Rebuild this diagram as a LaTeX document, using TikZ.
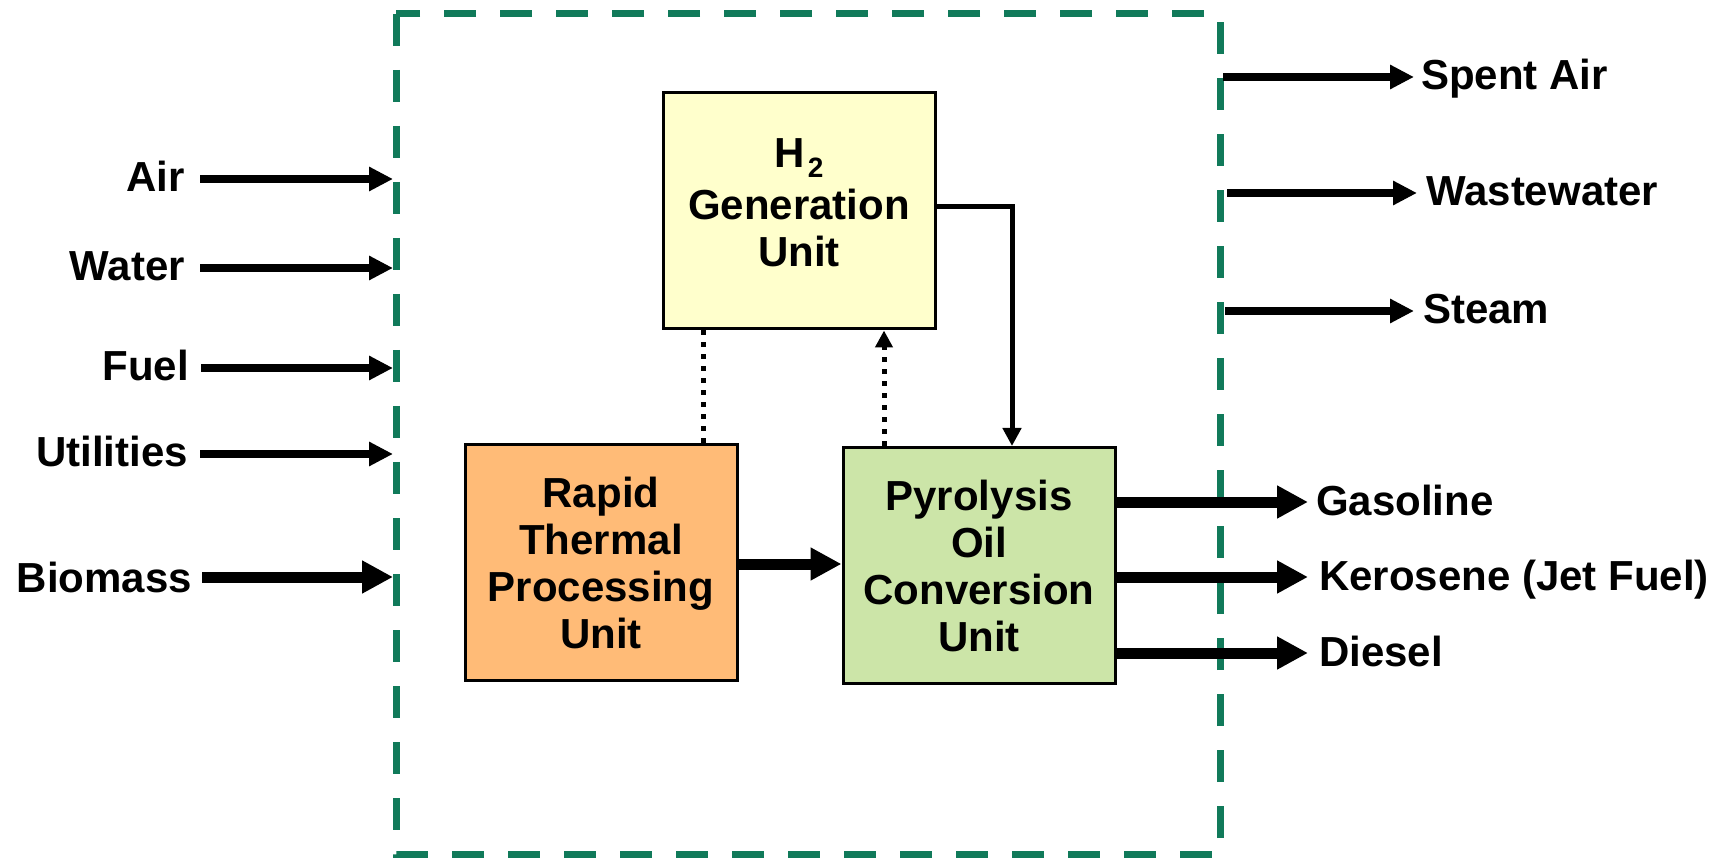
\documentclass[tikz,border=0pt]{standalone}
\usepackage{fontspec}
\setmainfont{Liberation Sans}
\usetikzlibrary{arrows.meta}
\definecolor{dashgreen}{RGB}{17,122,90}
\definecolor{boxyellow}{RGB}{255,255,204}
\definecolor{boxorange}{RGB}{255,187,119}
\definecolor{boxgreen}{RGB}{204,229,168}
\begin{document}
\begin{tikzpicture}[x=1pt,y=-1pt,
  txt/.style={font=\fontsize{42}{47}\selectfont\bfseries, inner sep=0pt, text height=30pt, text depth=0pt},
  unitbox/.style={draw=black, line width=3pt, minimum width=272pt, minimum height=236pt, align=center, font=\fontsize{42}{47}\selectfont\bfseries, inner sep=0pt},
  thinarr/.style={line width=8pt, -{Triangle[length=24pt,width=23pt]}},
  thickarr/.style={line width=11pt, -{Triangle[length=31pt,width=31pt]}},
  medarr/.style={line width=5pt, -{Triangle[length=18pt,width=18pt]}},
  dotline/.style={line width=5pt, dash pattern=on 5pt off 7pt},
  boundary/.style={draw=dashgreen, line width=7pt, dash pattern=on 32pt off 24pt}
]
\useasboundingbox (0,0) rectangle (1733,858);
% boundary
\draw[boundary] (396,14) rectangle (1220,854);

% unit boxes
\node[unitbox, fill=boxyellow] (h2) at (799,211)
  {H\kern3pt\raisebox{-10pt}{\fontsize{28}{28}\selectfont 2}\\[5pt]Generation\\Unit\rule[-16pt]{0pt}{16pt}};
\node[unitbox, fill=boxorange] (rapid) at (601,562.5) {Rapid\\Thermal\\Processing\\Unit};
\node[unitbox, fill=boxgreen] (pyro) at (979,565.5) {Pyrolysis\\Oil\\Conversion\\Unit};

% internal connections
\coordinate (dl) at (703,0);
\coordinate (dr) at (884,0);
\coordinate (hx) at (1012,0);
\coordinate (ry) at (0,564);
\draw[dotline] (dl |- h2.south) -- (dl |- rapid.north);
\draw[dotline, -{Triangle[length=17pt,width=17pt]}] (dr |- pyro.north) -- (dr |- h2.south);
\draw[medarr] ([yshift=4pt]h2.east) -| (hx |- pyro.north);
\draw[thickarr] (rapid.east |- ry) -- (pyro.west |- ry);

% inputs
\node[txt, anchor=east] (air) at (185,177) {Air};
\node[txt, anchor=east] (water) at (185,266) {Water};
\node[txt, anchor=east] (fuel) at (189,366) {Fuel};
\node[txt, anchor=east] (util) at (188,452) {Utilities};
\node[txt, anchor=east] (bio) at (192,577) {Biomass};
\coordinate (airS) at (200,179);   \coordinate (airE) at (393,179);
\coordinate (watS) at (200,268);   \coordinate (watE) at (393,268);
\coordinate (fueS) at (201,368);   \coordinate (fueE) at (393,368);
\coordinate (utiS) at (200,454);   \coordinate (utiE) at (393,454);
\coordinate (bioS) at (202,577);   \coordinate (bioE) at (393,577);
\draw[thinarr] (airS) -- (airE);
\draw[thinarr] (watS) -- (watE);
\draw[thinarr] (fueS) -- (fueE);
\draw[thinarr] (utiS) -- (utiE);
\draw[thickarr] (bioS) -- (bioE);

% outputs (top right)
\node[txt, anchor=west] (spent) at (1421,75) {Spent Air};
\node[txt, anchor=west] (waste) at (1426,191) {Wastewater};
\node[txt, anchor=west] (steam) at (1423,309) {Steam};
\coordinate (spS) at (1223,77);   \coordinate (spE) at (1414,77);
\coordinate (wwS) at (1227,193);  \coordinate (wwE) at (1417,193);
\coordinate (stS) at (1225,311);  \coordinate (stE) at (1414,311);
\draw[thinarr] (spS) -- (spE);
\draw[thinarr] (wwS) -- (wwE);
\draw[thinarr] (stS) -- (stE);

% products
\node[txt, anchor=west] (gas) at (1316,500) {Gasoline};
\node[txt, anchor=west] (kero) at (1319,575) {Kerosene (Jet Fuel)};
\node[txt, anchor=west] (dies) at (1319,651) {Diesel};
\coordinate (gasE) at (1308,502);
\coordinate (kerE) at (1308,577);
\coordinate (dieE) at (1308,653);
\draw[thickarr] (pyro.east |- gasE) -- (gasE);
\draw[thickarr] (pyro.east |- kerE) -- (kerE);
\draw[thickarr] (pyro.east |- dieE) -- (dieE);
\end{tikzpicture}
\end{document}
